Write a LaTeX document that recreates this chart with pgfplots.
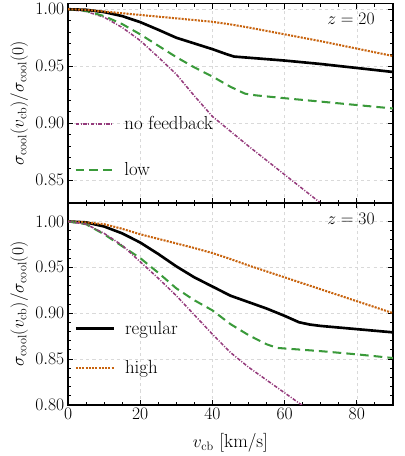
\documentclass[border=0pt]{standalone}
\usepackage{pgfplots}
\pgfplotsset{compat=1.18}
\definecolor{cOrange}{HTML}{C8640F}
\definecolor{cGreen}{HTML}{3A9A3A}
\definecolor{cPurple}{HTML}{953B7C}
\newcommand{\bigfont}{\fontsize{18.5}{21}\selectfont}
\newcommand{\gap}{\hspace*{8pt}}

\pgfplotsset{
  panel/.style={
    scale only axis, width=319pt,
    xmin=0, xmax=90,
    xtick distance=20, minor x tick num=3,
    minor y tick num=4,
    tick align=inside,
    grid=major, grid style={dashed, black!15, line width=0.5pt},
    axis line style={line width=1.6pt},
    major tick length=5pt, minor tick length=3pt,
    every tick/.style={black, line width=0.8pt},
    tick label style={font=\bigfont},
    label style={font=\bigfont},
    yticklabel style={inner sep=3.5pt, /pgf/number format/.cd, fixed, fixed zerofill, precision=2},
    ylabel={$\sigma_{\rm cool}(v_{\rm cb})/\sigma_{\rm cool}(0)$},
    legend cell align=left,
    legend image code/.code={\draw[#1] (0pt,0pt) -- (37pt,0pt);},
    legend style={draw=none, fill=none, font=\bigfont},
  },
  sReg/.style={black, line width=2.6pt},
  sLow/.style={cGreen, line width=2pt, dash pattern=on 8.5pt off 5pt},
  sHigh/.style={cOrange, line width=2pt, dash pattern=on 2pt off 1.2pt},
  sNone/.style={cPurple, line width=1.5pt, dash pattern=on 3.5pt off 1.5pt on 1pt off 1.5pt},
}

\begin{document}
\begin{tikzpicture}
% z = 20
\begin{axis}[panel, name=top, height=196pt,
  ymin=0.83, ymax=1.005, ytick={0.85,0.90,0.95,1.00},
  xticklabels={},
  legend style={at={(rel axis cs:0.01,0.455)}, anchor=north west, row sep=27pt}]
\addplot[sNone] coordinates {
 (0,1.000) (5,0.998) (10,0.993) (15,0.984) (20,0.9725) (25,0.958) (30,0.943)
 (35,0.924) (40,0.906) (50,0.880) (60,0.855) (70,0.830) (80,0.806) (90,0.782)};
\addlegendentry{\gap no feedback}
\addplot[sLow] coordinates {
 (0,1.000) (5,0.9985) (10,0.994) (15,0.987) (20,0.978) (25,0.968) (30,0.958)
 (35,0.949) (40,0.941) (45,0.932) (49,0.926) (52,0.9245) (60,0.922) (70,0.919)
 (80,0.916) (90,0.913)};
\addlegendentry{\gap low}
\addplot[sReg, forget plot] coordinates {
 (0,1.000) (5,0.9995) (10,0.9975) (15,0.994) (20,0.9887) (25,0.982) (30,0.975)
 (35,0.970) (40,0.965) (44,0.9605) (46,0.9585) (50,0.9575) (60,0.955) (70,0.952)
 (80,0.9485) (90,0.945)};
\addplot[sHigh, forget plot] coordinates {
 (0,1.000) (5,0.9995) (10,0.998) (15,0.9965) (20,0.995) (25,0.9935) (30,0.992)
 (35,0.9905) (40,0.989) (45,0.9867) (50,0.984) (60,0.978) (70,0.972) (80,0.9655)
 (90,0.959)};
\node[anchor=north east, font=\bigfont] at (rel axis cs:0.955,0.97) {$z = 20$};
\end{axis}

% z = 30
\begin{axis}[panel, at={(top.south west)}, anchor=north west, height=198pt,
  ymin=0.80, ymax=1.02, ytick={0.80,0.85,0.90,0.95,1.00},
  xlabel={$v_{\rm cb}$ [km/s]}, xlabel style={yshift=-7pt},
  legend style={at={(rel axis cs:0.01,0.435)}, anchor=north west, row sep=20pt}]
\addplot[sReg] coordinates {
 (0,1.000) (5,0.999) (10,0.9945) (15,0.987) (20,0.977) (25,0.9645) (30,0.951)
 (35,0.939) (40,0.929) (45,0.919) (50,0.912) (55,0.905) (60,0.897) (64,0.890)
 (67,0.8875) (70,0.886) (80,0.8825) (90,0.879)};
\addlegendentry{\gap regular}
\addplot[sHigh] coordinates {
 (0,1.000) (5,0.999) (10,0.997) (15,0.992) (20,0.986) (25,0.981) (30,0.976)
 (35,0.971) (40,0.9655) (45,0.959) (50,0.952) (60,0.939) (70,0.926) (80,0.913)
 (90,0.900)};
\addlegendentry{\gap high}
\addplot[sLow, forget plot] coordinates {
 (0,1.000) (5,0.997) (10,0.986) (15,0.973) (20,0.960) (25,0.944) (30,0.927)
 (35,0.914) (40,0.903) (45,0.888) (50,0.876) (55,0.866) (58,0.862) (70,0.8585)
 (80,0.855) (90,0.851)};
\addplot[sNone, forget plot] coordinates {
 (0,1.000) (5,0.997) (10,0.987) (15,0.974) (20,0.956) (25,0.938) (30,0.919)
 (35,0.898) (40,0.877) (45,0.857) (50,0.841) (55,0.827) (60,0.813) (65,0.799)
 (70,0.785)};
\node[anchor=north east, font=\bigfont] at (rel axis cs:0.955,0.97) {$z = 30$};
\end{axis}
% page margins as in the reference
\path ([xshift=-7pt]current bounding box.west);
\path ([xshift=11pt]top.east);
\path ([yshift=3pt]top.north);
\end{tikzpicture}
\end{document}
